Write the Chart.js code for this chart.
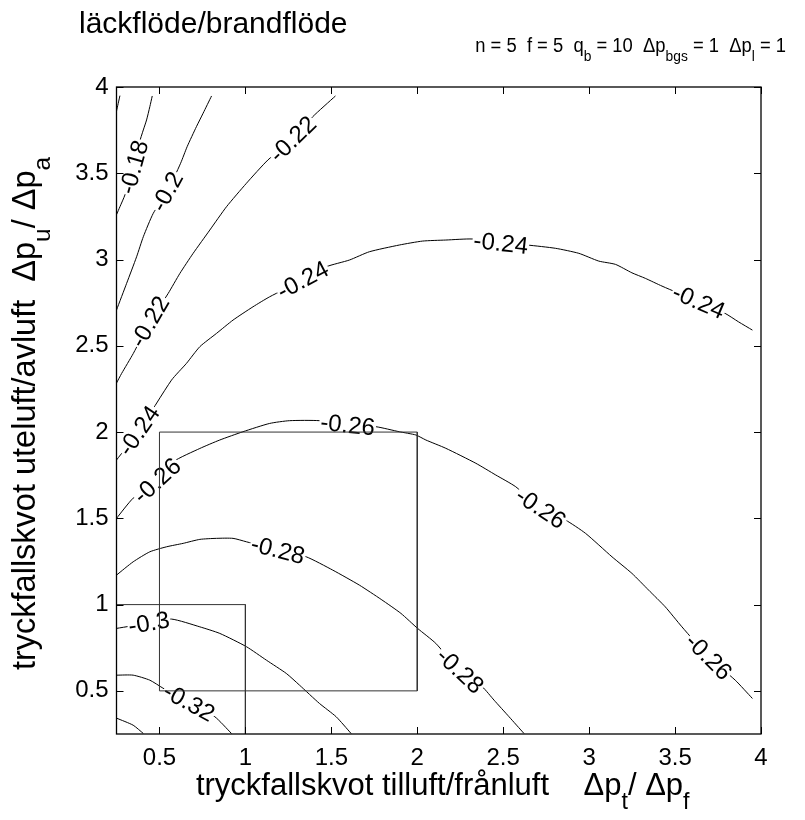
<!DOCTYPE html>
<html><head><meta charset="utf-8">
<script src="https://cdn.jsdelivr.net/npm/chart.js@4.4.1/dist/chart.umd.min.js"></script>
<style>html,body{margin:0;padding:0;background:#fff;}canvas{display:block;}</style>
</head><body>
<canvas id="c" width="805" height="820"></canvas>
<script>
const FONT = "'Liberation Sans', Arial, Helvetica, sans-serif";

// ---- texts ----
const titleText = 'läckflöde/brandflöde';
const subtitleParts = [['n = 5  f = 5  q', false], ['b', true], [' = 10  Δp', false], ['bgs', true], [' = 1  Δp', false], ['l', true], [' = 1', false]];
const xTitleParts = [['tryckfallskvot tilluft/frånluft    Δp', false], ['t', true], ['/ Δp', false], ['f', true]];
const yTitleParts = [['tryckfallskvot uteluft/avluft  Δp', false], ['u', true], ['/ Δp', false], ['a', true]];

// ---- axes ----
const xRange = [0.25, 4];
const yRange = [0.25, 4];
const xTicks = [0.5, 1, 1.5, 2, 2.5, 3, 3.5, 4];
const yTicks = [0.5, 1, 1.5, 2, 2.5, 3, 3.5, 4];

// ---- contour lines [x, y] ----
const c016 = [[0.27,3.95],[0.25,3.86]];
const c018 = [[0.458,3.948],[0.444,3.886],[0.425,3.809],[0.406,3.751],[0.382,3.674],[0.352,3.535],[0.299,3.374],[0.270,3.306],[0.25,3.26]];
const c020 = [[0.803,3.948],[0.754,3.848],[0.715,3.770],[0.661,3.654],[0.623,3.558],[0.545,3.393],[0.464,3.268],[0.406,3.132],[0.367,3.016],[0.309,2.862],[0.25,2.707]];
const c022 = [[1.524,3.948],[1.392,3.828],[1.276,3.697],[1.131,3.577],[1.006,3.442],[0.890,3.306],[0.793,3.171],[0.696,3.036],[0.619,2.920],[0.551,2.804],[0.444,2.639],[0.348,2.456],[0.280,2.340],[0.25,2.284]];
const c024 = [[0.25,1.838],[0.381,2.008],[0.570,2.301],[0.657,2.398],[0.735,2.495],[0.832,2.572],[0.928,2.649],[1.044,2.726],[1.141,2.784],[1.334,2.881],[1.470,2.958],[1.605,2.997],[1.721,3.045],[1.895,3.084],[2.031,3.107],[2.166,3.113],[2.321,3.119],[2.486,3.094],[2.640,3.084],[2.805,3.065],[2.940,3.036],[3.056,2.991],[3.153,2.972],[3.249,2.923],[3.327,2.891],[3.424,2.846],[3.637,2.755],[3.791,2.688],[3.869,2.639],[3.950,2.591]];
const c026 = [[0.25,1.500],[0.347,1.617],[0.487,1.718],[0.580,1.828],[0.735,1.905],[0.851,1.954],[0.986,2.002],[1.141,2.050],[1.257,2.066],[1.431,2.066],[1.595,2.041],[1.760,2.031],[1.895,2.002],[1.992,1.983],[2.050,1.954],[2.166,1.906],[2.341,1.819],[2.457,1.751],[2.573,1.683],[2.718,1.558],[2.863,1.490],[2.979,1.413],[3.133,1.277],[3.249,1.181],[3.346,1.084],[3.443,0.987],[3.540,0.871],[3.695,0.697],[3.850,0.562],[3.950,0.456]];
const c028 = [[0.25,1.171],[0.347,1.248],[0.444,1.306],[0.541,1.335],[0.638,1.355],[0.735,1.378],[0.832,1.384],[0.928,1.384],[1.006,1.364],[1.189,1.316],[1.354,1.277],[1.508,1.200],[1.663,1.113],[1.790,1.030],[1.905,0.949],[2.002,0.862],[2.108,0.775],[2.248,0.616],[2.379,0.523],[2.447,0.446],[2.534,0.350],[2.621,0.253]];
const c030 = [[0.25,0.862],[0.439,0.893],[0.570,0.916],[0.735,0.871],[0.851,0.833],[1.006,0.756],[1.122,0.678],[1.238,0.601],[1.315,0.533],[1.431,0.427],[1.528,0.350],[1.615,0.253]];
const c032 = [[0.25,0.591],[0.347,0.591],[0.444,0.562],[0.520,0.516],[0.671,0.432],[0.822,0.350],[0.919,0.253]];
const c034 = [[0.25,0.342],[0.347,0.301],[0.406,0.253]];

const contourLevels = [-0.16, -0.18, -0.2, -0.22, -0.24, -0.26, -0.28, -0.3, -0.32, -0.34];
const contourLines = [c016, c018, c020, c022, c024, c026, c028, c030, c032, c034];

// ---- inline labels: [level, x, y] (points lie on the contour) ----
const contourLabels = [
  [-0.18,0.352,3.535],[-0.2,0.545,3.393],
  [-0.22,1.276,3.697],[-0.22,0.444,2.639],
  [-0.24,0.381,2.008],[-0.24,1.334,2.881],[-0.24,2.486,3.094],[-0.24,3.637,2.755],
  [-0.26,0.487,1.718],[-0.26,1.595,2.041],[-0.26,2.718,1.558],[-0.26,3.695,0.697],
  [-0.28,1.189,1.316],[-0.28,2.248,0.616],
  [-0.3,0.439,0.893],[-0.32,0.671,0.432]
];

// ---- boxes: [x0, x1, y0, y1] ----
const boxSmall = [0, 1, 0, 1];
const boxLarge = [0.5, 2, 0.5, 2];

function boxPts(b) { return [[b[0],b[3]],[b[1],b[3]],[b[1],b[2]],[b[0],b[2]],[b[0],b[3]]].map(p => ({x:p[0], y:p[1]})); }

const datasets = [];
[boxSmall, boxLarge].forEach(b => datasets.push({
  data: boxPts(b), showLine: true, borderColor: '#333', borderWidth: 1, pointRadius: 0, tension: 0
}));
const FIRST_CONTOUR = datasets.length;
contourLines.forEach(line => datasets.push({
  data: line.map(p => ({x:p[0], y:p[1]})), showLine: true, borderColor: '#000', borderWidth: 1,
  pointRadius: 0, tension: 0.2
}));

function drawRich(ctx, parts, size, align) {
  const subSize = size * 0.75, drop = size * 0.45;
  let w = 0;
  const widths = parts.map(([t, sub]) => { ctx.font = `${sub ? subSize : size}px ${FONT}`; const m = ctx.measureText(t).width; w += m; return m; });
  let x = align === 'center' ? -w / 2 : (align === 'right' ? -w : 0);
  ctx.textAlign = 'left'; ctx.textBaseline = 'alphabetic';
  parts.forEach(([t, sub], i) => {
    ctx.font = `${sub ? subSize : size}px ${FONT}`;
    ctx.fillText(t, x, sub ? drop : 0);
    x += widths[i];
  });
}

const labelPlugin = {
  id: 'clabels',
  afterDatasetDraw(chart, args) {
    if (args.index !== FIRST_CONTOUR) return;
    const ctx = chart.ctx, xs = chart.scales.x, ys = chart.scales.y;
    const ca = chart.chartArea;
    ctx.save();
    ctx.beginPath(); ctx.rect(ca.left, ca.top, ca.right - ca.left, ca.bottom - ca.top); ctx.clip();
    ctx.font = `24px ${FONT}`;
    ctx.textAlign = 'center'; ctx.textBaseline = 'middle';
    contourLabels.forEach(([lev, lx, ly]) => {
      const pts = contourLines[contourLevels.indexOf(lev)];
      const i = pts.findIndex(p => p[0] === lx && p[1] === ly);
      const a = pts[Math.max(0, i - 1)], b = pts[Math.min(pts.length - 1, i + 1)];
      let ang = Math.atan2(ys.getPixelForValue(b[1]) - ys.getPixelForValue(a[1]), xs.getPixelForValue(b[0]) - xs.getPixelForValue(a[0]));
      if (ang > Math.PI / 2) ang -= Math.PI;
      if (ang < -Math.PI / 2) ang += Math.PI;
      const txt = String(lev);
      const w = ctx.measureText(txt).width;
      ctx.save();
      ctx.translate(xs.getPixelForValue(lx), ys.getPixelForValue(ly));
      ctx.rotate(ang);
      ctx.fillStyle = '#fff';
      ctx.fillRect(-w / 2 - 1, -9, w + 2, 18);
      ctx.fillStyle = '#000';
      ctx.fillText(txt, 0, 1);
      ctx.restore();
    });
    ctx.restore();
  }
};

const framePlugin = {
  id: 'frame',
  afterDraw(chart) {
    const ctx = chart.ctx, ca = chart.chartArea, xs = chart.scales.x, ys = chart.scales.y;
    ctx.save();
    ctx.strokeStyle = '#000'; ctx.lineWidth = 1.3;
    ctx.strokeRect(ca.left, ca.top, ca.right - ca.left, ca.bottom - ca.top);
    ctx.lineWidth = 1;
    ctx.beginPath();
    xTicks.forEach(v => { const p = Math.round(xs.getPixelForValue(v)) + 0.5;
      ctx.moveTo(p, ca.bottom); ctx.lineTo(p, ca.bottom - 7);
      ctx.moveTo(p, ca.top); ctx.lineTo(p, ca.top + 7); });
    yTicks.forEach(v => { const p = Math.round(ys.getPixelForValue(v)) + 0.5;
      ctx.moveTo(ca.left, p); ctx.lineTo(ca.left + 7, p);
      ctx.moveTo(ca.right, p); ctx.lineTo(ca.right - 7, p); });
    ctx.stroke();
    // titles
    ctx.fillStyle = '#000';
    ctx.font = `30px ${FONT}`; ctx.textAlign = 'left'; ctx.textBaseline = 'alphabetic';
    ctx.fillText(titleText, 79, 33);
    ctx.save(); ctx.translate(786, 52); ctx.scale(0.92, 1); drawRich(ctx, subtitleParts, 20, 'right'); ctx.restore();
    ctx.save(); ctx.translate((ca.left + ca.right) / 2 + 4, 795); drawRich(ctx, xTitleParts, 31, 'center'); ctx.restore();
    ctx.save(); ctx.translate(35, (ca.top + ca.bottom) / 2 + 3); ctx.rotate(-Math.PI / 2); drawRich(ctx, yTitleParts, 32.5, 'center'); ctx.restore();
    ctx.restore();
  }
};

new Chart(document.getElementById('c'), {
  type: 'scatter',
  data: { datasets },
  options: {
    responsive: false, animation: false, devicePixelRatio: 1,
    layout: { padding: { left: 0, top: 87, right: 44, bottom: 0 } },
    plugins: { legend: { display: false }, tooltip: { enabled: false }, title: { display: false } },
    scales: {
      x: {
        type: 'linear', min: xRange[0], max: xRange[1],
        grid: { display: false, drawTicks: false }, border: { display: false },
        ticks: { color: '#000', font: { family: FONT, size: 24 }, padding: 10, maxRotation: 0, autoSkip: false, callback: v => String(v) },
        afterBuildTicks: s => { s.ticks = xTicks.map(v => ({ value: v })); },
        afterFit: s => { s.height = 86; }
      },
      y: {
        type: 'linear', min: yRange[0], max: yRange[1],
        grid: { display: false, drawTicks: false }, border: { display: false },
        ticks: { color: '#000', font: { family: FONT, size: 24 }, padding: 8, autoSkip: false, callback: v => String(v) },
        afterBuildTicks: s => { s.ticks = yTicks.map(v => ({ value: v })); },
        afterFit: s => { s.width = 116.5; }
      }
    }
  },
  plugins: [labelPlugin, framePlugin]
});
</script>
</body></html>
